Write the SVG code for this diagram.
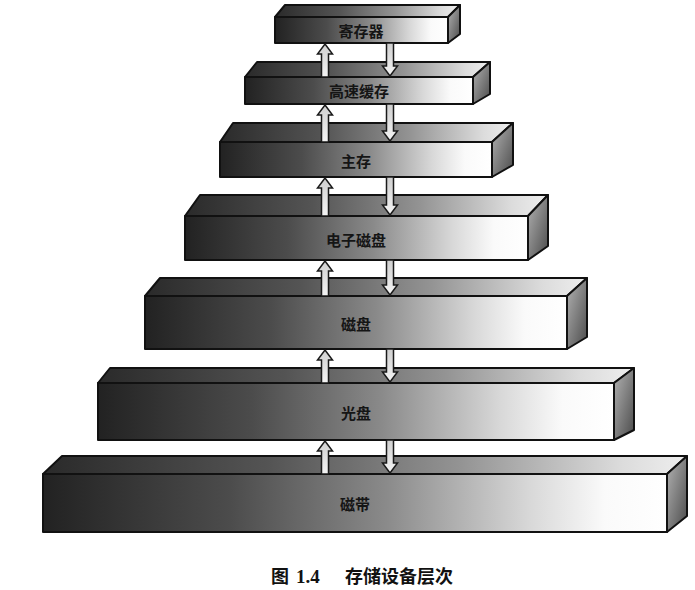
<svg xmlns="http://www.w3.org/2000/svg" width="695" height="590" viewBox="0 0 695 590">
<defs>
<linearGradient id="gFront" x1="0" y1="0" x2="1" y2="0">
<stop offset="0" stop-color="#222222"/>
<stop offset="0.3" stop-color="#4c4c4c"/>
<stop offset="0.55" stop-color="#8a8a8a"/>
<stop offset="0.78" stop-color="#d8d8d8"/>
<stop offset="0.9" stop-color="#fafafa"/>
<stop offset="1" stop-color="#ffffff"/>
</linearGradient>
<linearGradient id="gTop" x1="0" y1="0" x2="1" y2="0">
<stop offset="0" stop-color="#2a2a2a"/>
<stop offset="0.35" stop-color="#545454"/>
<stop offset="0.65" stop-color="#949494"/>
<stop offset="0.9" stop-color="#dcdcdc"/>
<stop offset="1" stop-color="#eeeeee"/>
</linearGradient>
<linearGradient id="gSide" x1="0" y1="0" x2="1" y2="1">
<stop offset="0" stop-color="#b4b4b4"/>
<stop offset="1" stop-color="#4a4a4a"/>
</linearGradient>
<linearGradient id="gArrow" x1="0" y1="0" x2="0" y2="1">
<stop offset="0" stop-color="#cfcfcf"/>
<stop offset="1" stop-color="#f4f4f4"/>
</linearGradient>
</defs>
<style>
.front{fill:url(#gFront);stroke:#111;stroke-width:2;stroke-linejoin:round}
.top{fill:url(#gTop);stroke:#111;stroke-width:2;stroke-linejoin:round}
.side{fill:url(#gSide);stroke:#111;stroke-width:2;stroke-linejoin:round}
.lbl{font-family:"Noto Sans CJK SC","Noto Sans",sans-serif;font-size:15px;font-weight:bold;fill:#151515;text-anchor:middle;dominant-baseline:central}
.arr{fill:url(#gArrow);stroke:#1a1a1a;stroke-width:1.5;stroke-linejoin:miter}
.cap{font-family:"Noto Sans CJK SC",sans-serif;font-size:18px;font-weight:bold;fill:#111}
.capn{font-family:"Liberation Serif",serif;font-size:19px;font-weight:bold;fill:#111}
</style>
<rect width="695" height="590" fill="#ffffff"/>

<g id="node-tape">
<polygon class="top" points="43,474 62,456 687,456 667,474"/>
<polygon class="side" points="667,474 687,456 687,516 667,532"/>
<rect class="front" x="43" y="474" width="624" height="58"/>
<text class="lbl" x="355" y="503">磁带</text>
</g>
<g id="node-optical">
<polygon class="top" points="98,383 110,368 634,368 614,383"/>
<polygon class="side" points="614,383 634,368 634,430 614,440"/>
<rect class="front" x="98" y="383" width="516" height="57"/>
<text class="lbl" x="356" y="412">光盘</text>
</g>
<g id="node-disk">
<polygon class="top" points="145,296 160,278 587,278 567,296"/>
<polygon class="side" points="567,296 587,278 587,337 567,349"/>
<rect class="front" x="145" y="296" width="422" height="53"/>
<text class="lbl" x="356" y="323">磁盘</text>
</g>
<g id="node-edisk">
<polygon class="top" points="185,216 200,195 548,195 528,216"/>
<polygon class="side" points="528,216 548,195 548,246 528,260"/>
<rect class="front" x="185" y="216" width="343" height="44"/>
<text class="lbl" x="356" y="239">电子磁盘</text>
</g>
<g id="node-memory">
<polygon class="top" points="220,142 233,123 513,123 492,142"/>
<polygon class="side" points="492,142 513,123 513,165 492,177"/>
<rect class="front" x="220" y="142" width="272" height="35"/>
<text class="lbl" x="356" y="160">主存</text>
</g>
<g id="node-cache">
<polygon class="top" points="245,77 257,62 490,62 473,77"/>
<polygon class="side" points="473,77 490,62 490,94 473,104"/>
<rect class="front" x="245" y="77" width="228" height="27"/>
<text class="lbl" x="359" y="90">高速缓存</text>
</g>
<g id="node-register">
<polygon class="top" points="275,17 285,5 460,5 448,17"/>
<polygon class="side" points="448,17 460,5 460,34 448,43"/>
<rect class="front" x="275" y="17" width="173" height="26"/>
<text class="lbl" x="361" y="30">寄存器</text>
</g>

<g id="connectors">
<path class="arr" d="M325,44 L332.5,54 L328.5,54 L328.5,77 L321.5,77 L321.5,54 L317.5,54 Z"/>
<path class="arr" d="M390,76 L397.5,66 L393.5,66 L393.5,43 L386.5,43 L386.5,66 L382.5,66 Z"/>
<path class="arr" d="M325,105 L332.5,115 L328.5,115 L328.5,142 L321.5,142 L321.5,115 L317.5,115 Z"/>
<path class="arr" d="M390,141 L397.5,131 L393.5,131 L393.5,104 L386.5,104 L386.5,131 L382.5,131 Z"/>
<path class="arr" d="M325,178 L332.5,188 L328.5,188 L328.5,216 L321.5,216 L321.5,188 L317.5,188 Z"/>
<path class="arr" d="M390,215 L397.5,205 L393.5,205 L393.5,177 L386.5,177 L386.5,205 L382.5,205 Z"/>
<path class="arr" d="M325,261 L332.5,271 L328.5,271 L328.5,296 L321.5,296 L321.5,271 L317.5,271 Z"/>
<path class="arr" d="M390,295 L397.5,285 L393.5,285 L393.5,260 L386.5,260 L386.5,285 L382.5,285 Z"/>
<path class="arr" d="M325,350 L332.5,360 L328.5,360 L328.5,383 L321.5,383 L321.5,360 L317.5,360 Z"/>
<path class="arr" d="M390,382 L397.5,372 L393.5,372 L393.5,349 L386.5,349 L386.5,372 L382.5,372 Z"/>
<path class="arr" d="M325,441 L332.5,451 L328.5,451 L328.5,474 L321.5,474 L321.5,451 L317.5,451 Z"/>
<path class="arr" d="M390,473 L397.5,463 L393.5,463 L393.5,440 L386.5,440 L386.5,463 L382.5,463 Z"/>
</g>

<g id="caption">
<text class="cap" x="271" y="583">图</text>
<text class="capn" x="296" y="583">1.4</text>
<text class="cap" x="345" y="583">存储设备层次</text>
</g>
</svg>
